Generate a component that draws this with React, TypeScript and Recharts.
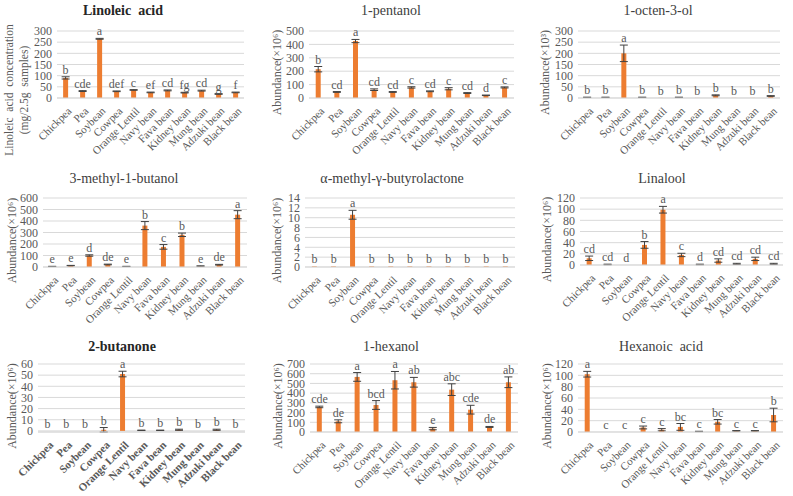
import React from 'react';
import { ComposedChart, Bar, Line, XAxis, YAxis, CartesianGrid, ErrorBar } from 'recharts';

const categories = [
  'Chickpea', 'Pea', 'Soybean', 'Cowpea', 'Orange Lentil', 'Navy bean',
  'Fava bean', 'Kidney bean', 'Mung bean', 'Adzuki bean', 'Black bean',
];

const linoleicValues = [90, 31, 265, 30, 36, 25, 34, 24, 33, 18, 25];
const linoleicErrors = [5, 2, 2, 1.5, 1.5, 1.5, 2, 1.5, 2, 1.5, 1.5];
const linoleicLetters = ['b', 'cde', 'a', 'def', 'c', 'ef', 'cd', 'fg', 'cd', 'g', 'f'];
const linoleicTicks = [0, 50, 100, 150, 200, 250, 300];

const pentanolValues = [215, 45, 425, 62, 45, 79, 50, 69, 37, 20, 79];
const pentanolErrors = [20, 3, 12, 6, 3, 5, 3, 8, 3, 2, 4];
const pentanolLetters = ['b', 'cd', 'a', 'cd', 'cd', 'c', 'cd', 'c', 'cd', 'd', 'c'];
const pentanolTicks = [0, 100, 200, 300, 400, 500];

const octenolValues = [3, 3, 200, 3, 0.5, 3, 0.5, 12, 0.5, 0.5, 9];
const octenolErrors = [0.5, 0.5, 37, 0.5, 0, 0.5, 0, 2, 0, 0, 1.5];
const octenolLetters = ['b', 'b', 'a', 'b', 'b', 'b', 'b', 'b', 'b', 'b', 'b'];
const octenolTicks = [0, 50, 100, 150, 200, 250, 300];

const methylbutanolValues = [5, 12, 100, 22, 5, 360, 175, 280, 8, 20, 455];
const methylbutanolErrors = [1, 2, 6, 3, 1, 35, 20, 15, 2, 3, 35];
const methylbutanolLetters = ['e', 'e', 'd', 'de', 'e', 'b', 'c', 'b', 'e', 'de', 'a'];
const methylbutanolTicks = [0, 100, 200, 300, 400, 500, 600];

const butyrolactoneValues = [0.12, 0.12, 10.6, 0.12, 0.12, 0.12, 0.12, 0.12, 0.12, 0.12, 0.12];
const butyrolactoneErrors = [0, 0, 0.9, 0, 0, 0, 0, 0, 0, 0, 0];
const butyrolactoneLetters = ['b', 'b', 'a', 'b', 'b', 'b', 'b', 'b', 'b', 'b', 'b'];
const butyrolactoneTicks = [0, 2, 4, 6, 8, 10, 12, 14];

const linaloolValues = [12, 1, 0, 36, 99, 18, 1, 8, 2, 11, 2];
const linaloolErrors = [4, 0.5, 0, 6, 6, 3, 0.5, 3, 1, 3, 1];
const linaloolLetters = ['cd', 'cd', 'd', 'b', 'a', 'c', 'd', 'cd', 'cd', 'cd', 'cd'];
const linaloolTicks = [0, 20, 40, 60, 80, 100, 120];

const butanoneValues = [0, 0, 0, 1, 51, 0.5, 0.5, 1, 0, 1, 0];
const butanoneErrors = [0, 0, 0, 2, 2.5, 0.2, 0.2, 0.5, 0, 0.5, 0];
const butanoneLetters = ['b', 'b', 'b', 'b', 'a', 'b', 'b', 'b', 'b', 'b', 'b'];
const butanoneTicks = [0, 10, 20, 30, 40, 50, 60];

const hexanolValues = [258, 110, 567, 278, 533, 512, 35, 436, 230, 52, 512];
const hexanolErrors = [8, 15, 45, 45, 90, 50, 12, 60, 45, 5, 55];
const hexanolLetters = ['cde', 'de', 'a', 'bcd', 'a', 'ab', 'e', 'abc', 'cde', 'de', 'ab'];
const hexanolTicks = [0, 100, 200, 300, 400, 500, 600, 700];

const hexanoicValues = [102, 0, 0, 8, 4, 9, 1, 18, 2, 2, 30];
const hexanoicErrors = [5, 0, 0, 2.5, 2, 6, 0.3, 4, 0.5, 0.5, 12];
const hexanoicLetters = ['a', 'c', 'c', 'c', 'c', 'bc', 'c', 'bc', 'c', 'c', 'b'];
const hexanoicTicks = [0, 20, 40, 60, 80, 100, 120];

const ORANGE = '#ED7D31';
const GRAY = '#595959';
const FONT = "'Liberation Serif', serif";
const PW = 264;
const PH = 165;

const panels = [
  { title: 'Linoleic  acid', bold: true, yLabel: ['Linoleic  acid  concentration', '(mg/2.5g  samples)'], values: linoleicValues, errors: linoleicErrors, letters: linoleicLetters, ticks: linoleicTicks, titleX: 123, titleY: 15, labelX: 9, plot: { l: 57, r: 244, t: 31, b: 98 } },
  { title: '1-pentanol', yLabel: ['Abundance(×10⁶)'], values: pentanolValues, errors: pentanolErrors, letters: pentanolLetters, ticks: pentanolTicks, titleX: 126, titleY: 15, labelX: 12, plot: { l: 44, r: 249, t: 31, b: 98 } },
  { title: '1-octen-3-ol', yLabel: ['Abundance(×10³)'], values: octenolValues, errors: octenolErrors, letters: octenolLetters, ticks: octenolTicks, titleX: 128, titleY: 15, labelX: 15, plot: { l: 48, r: 250, t: 31, b: 98 } },
  { title: '3-methyl-1-butanol', yLabel: ['Abundance(×10⁶)'], values: methylbutanolValues, errors: methylbutanolErrors, letters: methylbutanolLetters, ticks: methylbutanolTicks, titleX: 124, titleY: 18, labelX: 12, plot: { l: 43, r: 247, t: 33, b: 102 } },
  { title: 'α-methyl-γ-butyrolactone', yLabel: ['Abundance(×10⁶)'], values: butyrolactoneValues, errors: butyrolactoneErrors, letters: butyrolactoneLetters, ticks: butyrolactoneTicks, titleX: 127, titleY: 18, labelX: 12, plot: { l: 40, r: 250, t: 33, b: 102 } },
  { title: 'Linalool', yLabel: ['Abundance(×10⁶)'], values: linaloolValues, errors: linaloolErrors, letters: linaloolLetters, ticks: linaloolTicks, titleX: 132, titleY: 18, labelX: 17, plot: { l: 50, r: 253, t: 33, b: 100 } },
  { title: '2-butanone', bold: true, boldTicks: true, yLabel: ['Abundance(×10⁶)'], values: butanoneValues, errors: butanoneErrors, letters: butanoneLetters, ticks: butanoneTicks, titleX: 122, titleY: 21, labelX: 12, plot: { l: 38, r: 245, t: 34, b: 102 } },
  { title: '1-hexanol', yLabel: ['Abundance(×10⁶)'], values: hexanolValues, errors: hexanolErrors, letters: hexanolLetters, ticks: hexanolTicks, titleX: 126, titleY: 21, labelX: 13, plot: { l: 45, r: 253, t: 34, b: 102 } },
  { title: 'Hexanoic  acid', yLabel: ['Abundance(×10⁶)'], values: hexanoicValues, errors: hexanoicErrors, letters: hexanoicLetters, ticks: hexanoicTicks, titleX: 131, titleY: 21, labelX: 17, plot: { l: 48, r: 253, t: 34, b: 102 } },
];

function CategoryTick(props: any) {
  const { x, y, payload, bold } = props;
  return (
    <text
      x={0}
      y={0}
      transform={`translate(${x + 4},${y + 3}) rotate(-45)`}
      textAnchor="end"
      dy="0.35em"
      fontSize={11}
      fontFamily={FONT}
      fontWeight={bold ? 'bold' : 'normal'}
      fill={GRAY}
    >
      {payload.value}
    </text>
  );
}

function LetterDot(props: any) {
  const { cx, cy, payload, index } = props;
  if (cx == null || cy == null) return <g key={index} />;
  return (
    <text key={index} x={cx} y={cy - 3} textAnchor="middle" fontSize={12} fontFamily={FONT} fill={GRAY}>
      {payload.letter}
    </text>
  );
}

function Panel({ cfg, left, top }: any) {
  const { plot, values, errors, letters, ticks } = cfg;
  const rows = categories.map((name, i) => ({
    name,
    value: values[i],
    err: errors[i],
    top: values[i] + errors[i],
    letter: letters[i],
  }));
  const yMax = ticks[ticks.length - 1];
  const midY = (plot.t + plot.b) / 2 + 8;

  return (
    <div style={{ position: 'absolute', left, top, width: PW, height: PH }}>
      <ComposedChart
        width={PW}
        height={PH}
        data={rows}
        margin={{ top: plot.t, right: PW - plot.r, bottom: 0, left: 0 }}
        barCategoryGap="36%"
      >
        <CartesianGrid vertical={false} stroke="#d9d9d9" />
        <XAxis
          dataKey="name"
          interval={0}
          height={PH - plot.b}
          tickLine={false}
          axisLine={{ stroke: '#d9d9d9' }}
          tick={<CategoryTick bold={!!cfg.boldTicks} />}
        />
        <YAxis
          width={plot.l}
          domain={[0, yMax]}
          ticks={ticks}
          interval={0}
          axisLine={false}
          tickLine={false}
          tickSize={0}
          tickMargin={5}
          tick={{ fontSize: 12, fontFamily: FONT, fill: GRAY }}
        />
        <Bar dataKey="value" fill={ORANGE} isAnimationActive={false}>
          <ErrorBar dataKey="err" width={4} stroke="#404040" strokeWidth={1} direction="y" />
        </Bar>
        <Line
          dataKey="top"
          stroke="none"
          dot={LetterDot}
          activeDot={false}
          legendType="none"
          isAnimationActive={false}
        />
      </ComposedChart>
      <svg width={PW} height={PH} style={{ position: 'absolute', left: 0, top: 0, pointerEvents: 'none' }}>
        <text
          x={cfg.titleX}
          y={cfg.titleY}
          textAnchor="middle"
          fontSize={14}
          fontFamily={FONT}
          fontWeight={cfg.bold ? 'bold' : 'normal'}
          fill={cfg.bold ? '#262626' : '#404040'}
          style={{ whiteSpace: 'pre' }}
        >
          {cfg.title}
        </text>
        {cfg.yLabel.map((line: string, i: number) => {
          const lx = cfg.labelX + i * 15;
          const ly = cfg.yLabel.length > 1 ? 90 : midY;
          return (
            <text
              key={i}
              x={lx}
              y={ly}
              transform={`rotate(-90, ${lx}, ${ly})`}
              textAnchor="middle"
              dominantBaseline="central"
              fontSize={cfg.yLabel.length > 1 ? 11.5 : 12}
              fontFamily={FONT}
              fill={GRAY}
              style={{ whiteSpace: 'pre' }}
            >
              {line}
            </text>
          );
        })}
      </svg>
    </div>
  );
}

export default function App() {
  return (
    <div style={{ position: 'absolute', left: 0, top: 0, width: 793, height: 496, background: '#fff', fontFamily: FONT }}>
      {panels.map((cfg, i) => (
        <Panel key={i} cfg={cfg} left={(i % 3) * 265} top={Math.floor(i / 3) * 165} />
      ))}
    </div>
  );
}
